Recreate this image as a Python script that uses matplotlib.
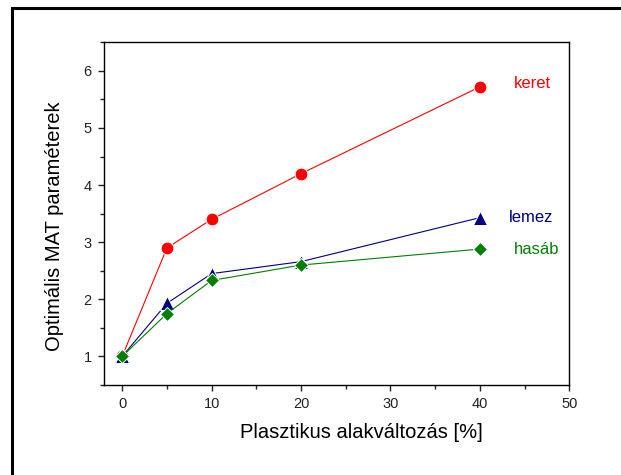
import matplotlib
matplotlib.use("Agg")
import matplotlib.pyplot as plt
from matplotlib.patches import Rectangle
from matplotlib.ticker import MultipleLocator

plt.rcParams['font.family'] = ['Liberation Sans', 'DejaVu Sans']

x = [0, 5, 10, 20, 40]
keret = [1.0, 2.9, 3.4, 4.2, 5.72]
lemez = [1.0, 1.93, 2.45, 2.66, 3.43]
hasab = [1.0, 1.75, 2.33, 2.6, 2.88]
series_names = ["keret", "lemez", "hasáb"]
label_x = [43.8, 43.2, 43.8]
label_y = [5.78, 3.43, 2.88]

fig = plt.figure(figsize=(6.21, 4.75), dpi=100)
fig.patches.append(Rectangle((12/621, -0.1), 1.2, (475-8)/475 + 0.1, transform=fig.transFigure,
                             fill=False, edgecolor='black', linewidth=2.2))
ax = fig.add_axes([104.3/621, (475-385)/475, (569.3-104.3)/621, (385-42.3)/475])

styles = [
    (keret, 'red', 'o', 9.2),
    (lemez, '#000080', '^', 9.8),
    (hasab, '#008000', 'D', 7.6),
]
for (vals, col, mk, ms), name, lx, ly in zip(styles, series_names, label_x, label_y):
    ax.plot(x, vals, color=col, linewidth=0.8, marker=mk, markersize=ms,
            markeredgecolor='white', markeredgewidth=0.7, zorder=3)
    ax.text(lx, ly, name, color=col, fontsize=12, va='center', ha='left')

ax.set_xlim(-2, 50)
ax.set_ylim(0.5, 6.5)
ax.xaxis.set_major_locator(MultipleLocator(10))
ax.xaxis.set_minor_locator(MultipleLocator(5))
ax.yaxis.set_major_locator(MultipleLocator(1))
ax.yaxis.set_minor_locator(MultipleLocator(0.5))
ax.tick_params(which='both', direction='out', top=False, right=False, labelsize=10.5, colors='#222222', width=1.0)
ax.tick_params(which='major', length=4.5, pad=4.5)
ax.tick_params(which='minor', length=3)
for s in ax.spines.values():
    s.set_linewidth(1.0)
ax.set_xlabel("Plasztikus alakváltozás [%]", fontsize=14.5)
ax.set_ylabel("Optimális MAT paraméterek", fontsize=14.5)
# label centres in pixels: xlabel (361, 433), ylabel (54, 226)
ax.xaxis.set_label_coords((361 - 104.3) / 465.0, -(433 - 385) / 342.7)
ax.xaxis.label.set_va('center')
ax.yaxis.set_label_coords(-(104.3 - 54) / 465.0, (385 - 226) / 342.7)
ax.yaxis.label.set_va('center')

fig.savefig("out.png", dpi=100)
